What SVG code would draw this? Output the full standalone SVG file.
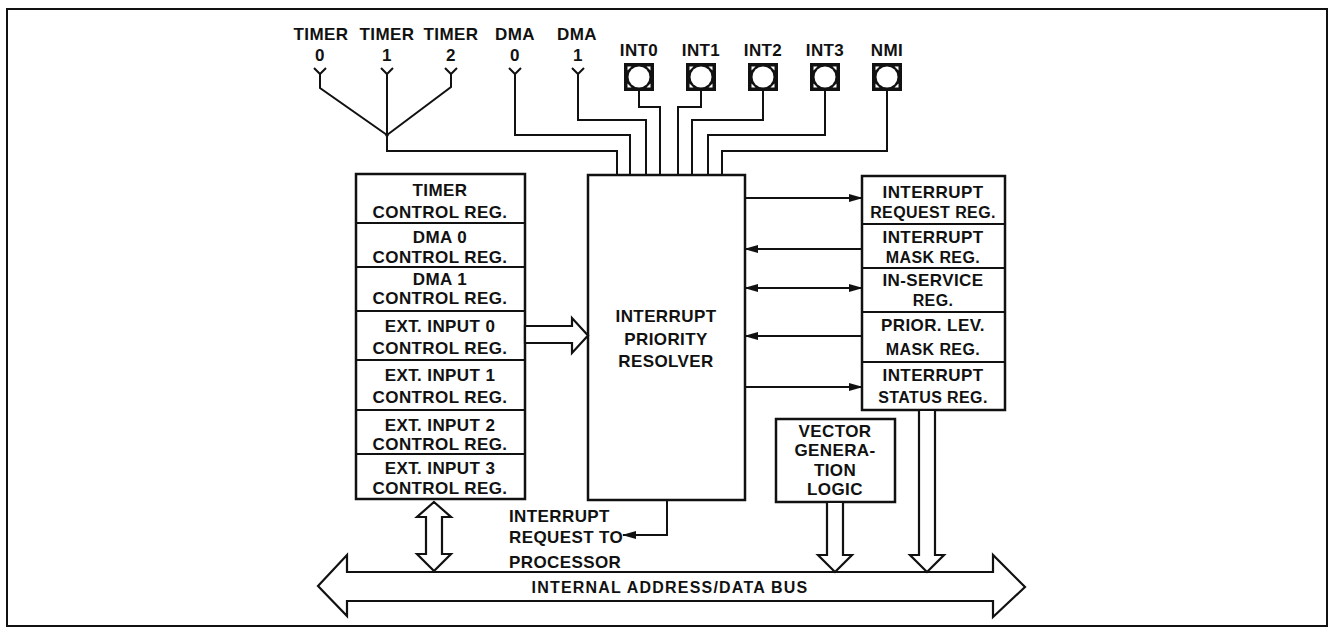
<svg xmlns="http://www.w3.org/2000/svg" xmlns:xlink="http://www.w3.org/1999/xlink" width="1332" height="628" viewBox="0 0 1332 628">
<style>
text{font-family:"Liberation Sans",Arial,Helvetica,sans-serif;font-weight:bold;font-size:17px;fill:#111;text-anchor:middle;letter-spacing:0.4px}
.sm{font-size:16px}
.box{fill:#fff;stroke:#111;stroke-width:2.5}
.div{stroke:#111;stroke-width:2;fill:none}
.ln{fill:none;stroke:#111;stroke-width:2;stroke-linejoin:miter}
.hol{fill:#fff;stroke:#111;stroke-width:2.2;stroke-linejoin:miter}
.lft{text-anchor:start}
</style>
<defs>
<marker id="ah" markerUnits="userSpaceOnUse" markerWidth="14" markerHeight="10" refX="13" refY="4" orient="auto-start-reverse" viewBox="0 0 14 8">
<path d="M0,0 L14,4 L0,8 z" fill="#111"/>
</marker>
<g id="pad">
<rect x="-15" y="-14" width="30" height="28" fill="#111"/>
<circle cx="0" cy="0" r="10.5" fill="#fff"/>
<path d="M-11.5,-10.5 l4,0 l-4,4 z M11.5,-10.5 l-4,0 l4,4 z M-11.5,10.5 l4,0 l-4,-4 z M11.5,10.5 l-4,0 l4,-4 z" fill="#fff"/>
</g>
<path id="pin" d="M-6,68 L0,74 L6,68" class="ln"/>
</defs>
<rect x="7" y="9" width="1320" height="617" fill="none" stroke="#111" stroke-width="2"/>

<g id="inputs">
<text x="321" y="40">TIMER</text><text x="320" y="61">0</text>
<text x="387" y="40">TIMER</text><text x="387" y="61">1</text>
<text x="451" y="40">TIMER</text><text x="451" y="61">2</text>
<text x="515" y="40">DMA</text><text x="515" y="61">0</text>
<text x="577" y="40">DMA</text><text x="578" y="61">1</text>
<use xlink:href="#pin" x="320"/><use xlink:href="#pin" x="387"/><use xlink:href="#pin" x="451"/>
<use xlink:href="#pin" x="515"/><use xlink:href="#pin" x="578"/>
</g>

<g id="pads">
<text x="639" y="56">INT0</text><use xlink:href="#pad" x="639" y="77"/>
<text x="701" y="56">INT1</text><use xlink:href="#pad" x="701" y="77"/>
<text x="763" y="56">INT2</text><use xlink:href="#pad" x="763" y="77"/>
<text x="825" y="56">INT3</text><use xlink:href="#pad" x="825" y="77"/>
<text x="887" y="56">NMI</text><use xlink:href="#pad" x="887" y="77"/>
</g>

<g id="left-registers">
<rect class="box" x="356" y="174" width="169" height="325"/>
<path class="div" d="M356,223H525M356,267H525M356,311H525M356,360H525M356,410H525M356,454H525"/>
<text x="440" y="196">TIMER</text><text x="440" y="218">CONTROL REG.</text>
<text x="440" y="243">DMA 0</text><text x="440" y="263">CONTROL REG.</text>
<text x="440" y="285">DMA 1</text><text x="440" y="304">CONTROL REG.</text>
<text x="440" y="332">EXT. INPUT 0</text><text x="440" y="354">CONTROL REG.</text>
<text x="440" y="381">EXT. INPUT 1</text><text x="440" y="403">CONTROL REG.</text>
<text x="440" y="431">EXT. INPUT 2</text><text x="440" y="450">CONTROL REG.</text>
<text x="440" y="474">EXT. INPUT 3</text><text x="440" y="494">CONTROL REG.</text>
</g>

<g id="resolver">
<rect class="box" x="588" y="175" width="157" height="325"/>
<text x="666" y="322">INTERRUPT</text>
<text x="666" y="345">PRIORITY</text>
<text x="666" y="367">RESOLVER</text>
</g>

<g id="right-registers">
<rect class="box" x="862" y="176" width="143" height="234"/>
<path class="div" d="M862,224H1005M862,268H1005M862,312H1005M862,362H1005"/>
<text x="933" y="198">INTERRUPT</text><text x="933" y="218" class="sm">REQUEST REG.</text>
<text x="933" y="243">INTERRUPT</text><text x="933" y="263" class="sm">MASK REG.</text>
<text x="933" y="286">IN-SERVICE</text><text x="933" y="306" class="sm">REG.</text>
<text x="933" y="331">PRIOR. LEV.</text><text x="933" y="355" class="sm">MASK REG.</text>
<text x="933" y="381">INTERRUPT</text><text x="933" y="403" class="sm">STATUS REG.</text>
</g>

<g id="vector-logic">
<rect class="box" x="776" y="419" width="119" height="83"/>
<text x="835" y="437">VECTOR</text>
<text x="835" y="456">GENERA-</text>
<text x="835" y="476">TION</text>
<text x="835" y="495">LOGIC</text>
</g>

<g id="bus">
<polygon class="hol" points="318,586 347,555 347,572 993,572 993,555 1025,587 993,617 993,601 347,601 347,616"/>
<text x="670" y="593" class="sm" style="letter-spacing:1.2px">INTERNAL ADDRESS/DATA BUS</text>
</g>

<g id="irq-label">
<text class="lft" x="509" y="522">INTERRUPT</text>
<text class="lft" x="509" y="543">REQUEST TO</text>
<text class="lft" x="509" y="568">PROCESSOR</text>
</g>

<g id="connectors">
<polyline class="ln" points="320,74 320,88 387,135"/>
<polyline class="ln" points="451,74 451,87 387,135"/>
<polyline class="ln" points="387,74 387,151 617,151 617,175"/>
<polyline class="ln" points="515,74 515,135 630,135 630,175"/>
<polyline class="ln" points="578,74 578,120 646,120 646,175"/>
<polyline class="ln" points="639,91 639,107 660,107 660,175"/>
<polyline class="ln" points="701,91 701,107 678,107 678,175"/>
<polyline class="ln" points="763,91 763,120 692,120 692,175"/>
<polyline class="ln" points="825,91 825,135 708,135 708,175"/>
<polyline class="ln" points="887,91 887,151 722,151 722,175"/>
<circle cx="387" cy="135" r="1.8" fill="#111"/>

<line class="ln" x1="745" y1="198" x2="862" y2="198" marker-end="url(#ah)"/>
<line class="ln" x1="862" y1="249" x2="745" y2="249" marker-end="url(#ah)"/>
<line class="ln" x1="745" y1="288" x2="862" y2="288" marker-start="url(#ah)" marker-end="url(#ah)"/>
<line class="ln" x1="862" y1="336" x2="745" y2="336" marker-end="url(#ah)"/>
<line class="ln" x1="745" y1="387" x2="862" y2="387" marker-end="url(#ah)"/>
<polyline class="ln" points="667,500 667,535 623,535" marker-end="url(#ah)"/>

<polygon class="hol" points="525,326 572,326 572,318 588,335.5 572,353 572,343 525,343"/>
<polygon class="hol" points="434,502 451,517 442,517 442,554 451,554 434,571 417,554 426,554 426,517 417,517"/>
<polygon class="hol" points="827,502 827,555 818,555 835,572 852,555 843,555 843,502"/>
<polygon class="hol" points="919,410 919,555 910,555 927,572 944,555 935,555 935,410"/>
</g>
</svg>
